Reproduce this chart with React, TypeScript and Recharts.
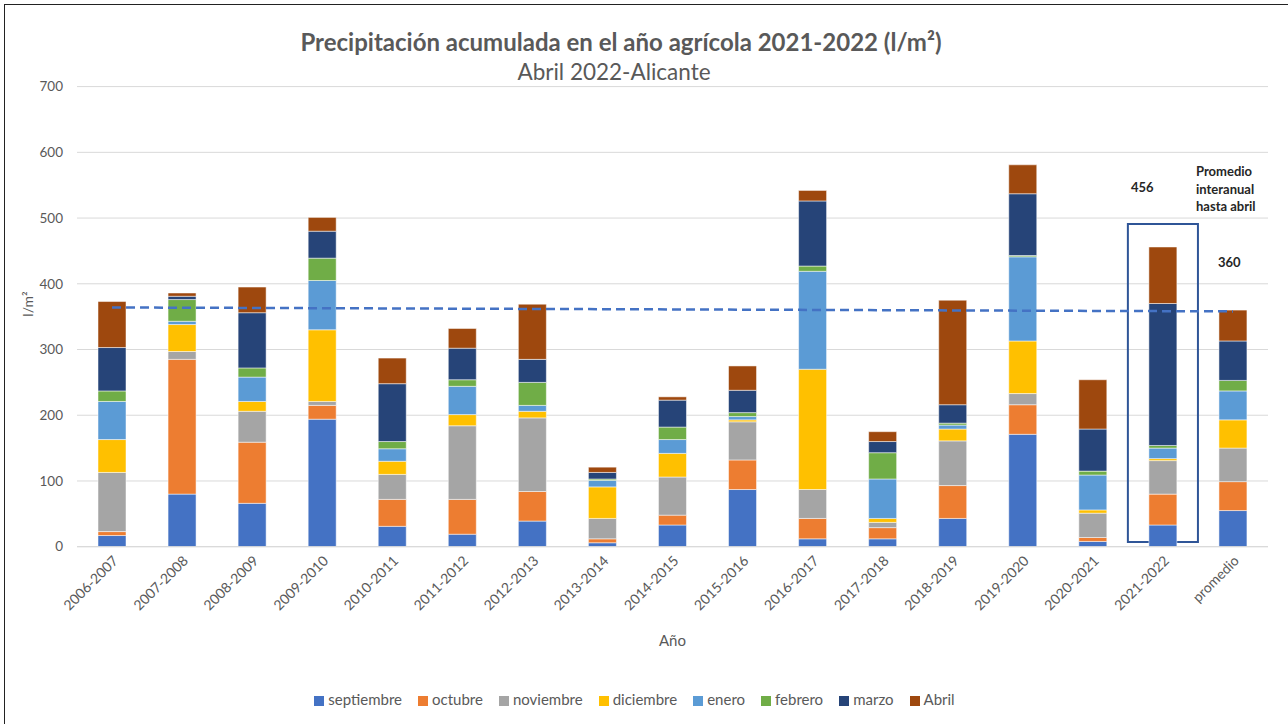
import {
  BarChart,
  Bar,
  XAxis,
  YAxis,
  CartesianGrid,
  Legend,
  ReferenceLine,
  ReferenceArea,
} from "recharts";

const years = [
  "2006-2007", "2007-2008", "2008-2009", "2009-2010", "2010-2011", "2011-2012",
  "2012-2013", "2013-2014", "2014-2015", "2015-2016", "2016-2017", "2017-2018",
  "2018-2019", "2019-2020", "2020-2021", "2021-2022", "promedio",
];

const septiembre = [17, 80, 66, 194, 31, 19, 39, 6, 33, 87, 12, 12, 43, 171, 8, 33, 55];
const octubre = [6, 205, 93, 21, 41, 53, 45, 6, 15, 45, 31, 17, 50, 45, 6, 47, 44];
const noviembre = [90, 12, 47, 6, 38, 112, 112, 31, 58, 58, 44, 8, 68, 17, 37, 51, 51];
const diciembre = [50, 41, 15, 109, 20, 17, 10, 48, 36, 3, 183, 6, 18, 80, 5, 3, 43];
const enero = [58, 5, 37, 75, 19, 43, 9, 10, 21, 5, 149, 60, 6, 128, 53, 16, 44];
const febrero = [16, 33, 14, 34, 11, 10, 35, 2, 19, 6, 8, 40, 3, 2, 6, 4, 16];
const marzo = [66, 5, 84, 41, 88, 48, 35, 10, 41, 34, 99, 17, 28, 94, 64, 216, 60];
const abril = [70, 5, 39, 21, 39, 30, 84, 8, 5, 37, 16, 15, 159, 44, 75, 86, 47];

const yTicks = [0, 100, 200, 300, 400, 500, 600, 700];

// dashed trend line across the chart (start / end values)
const trendStart = 364;
const trendEnd = 358;

// box around the current year
const boxYear = "2021-2022";
const boxLow = 7;
const boxHigh = 491;

const series = [
  { key: "septiembre", color: "#4472C4", values: septiembre },
  { key: "octubre", color: "#ED7D31", values: octubre },
  { key: "noviembre", color: "#A5A5A5", values: noviembre },
  { key: "diciembre", color: "#FFC000", values: diciembre },
  { key: "enero", color: "#5B9BD5", values: enero },
  { key: "febrero", color: "#70AD47", values: febrero },
  { key: "marzo", color: "#264478", values: marzo },
  { key: "Abril", color: "#9E480E", values: abril },
];
const seriesKeys = series.map((s) => s.key);

const data = years.map((y, i) => {
  const row: Record<string, string | number> = { year: y };
  series.forEach((s) => {
    row[s.key] = s.values[i];
  });
  return row;
});

const FONT = "Lato, 'Open Sans', sans-serif";
const GREY = "#595959";

export default function App() {
  return (
    <div
      style={{
        position: "absolute",
        left: 0,
        top: 0,
        width: 1288,
        height: 724,
        background: "#fff",
        fontFamily: FONT,
        overflow: "hidden",
      }}
    >
      <div
        style={{
          position: "absolute",
          left: 4,
          top: 4,
          right: 0,
          bottom: 0,
          borderTop: "1.5px solid #222",
          borderLeft: "1.5px solid #222",
        }}
      />
      <div
        style={{
          position: "absolute",
          top: 27,
          left: 0,
          width: 1242,
          textAlign: "center",
          fontSize: 24,
          fontWeight: 700,
          color: GREY,
        }}
      >
        Precipitación acumulada en el año agrícola 2021-2022 (l/m²)
      </div>
      <div
        style={{
          position: "absolute",
          top: 58,
          left: 0,
          width: 1228,
          textAlign: "center",
          fontSize: 22.5,
          color: GREY,
        }}
      >
        Abril 2022-Alicante
      </div>

      <BarChart
        width={1288}
        height={724}
        data={data}
        margin={{ top: 86.6, right: 20, bottom: 10, left: 17 }}
        style={{ position: "absolute", left: 0, top: 0 }}
      >
        <CartesianGrid vertical={false} stroke="#d9d9d9" />
        <XAxis
          dataKey="year"
          interval={0}
          height={143.3}
          angle={-45}
          textAnchor="end"
          tickLine={false}
          axisLine={{ stroke: "#d9d9d9" }}
          tick={{ fontSize: 14, fill: GREY, fontFamily: FONT }}
          label={{
            value: "Año",
            position: "insideBottom",
            offset: 44,
            fill: GREY,
            fontSize: 15,
            fontFamily: FONT,
          }}
        />
        <YAxis
          domain={[0, 700]}
          ticks={yTicks}
          width={60}
          tickLine={false}
          axisLine={false}
          tickMargin={8}
          tick={{ fontSize: 13.5, fill: GREY, fontFamily: FONT }}
          label={{
            value: "l/m²",
            angle: -90,
            position: "insideLeft",
            offset: 11,
            fill: GREY,
            fontSize: 14,
            fontFamily: FONT,
          }}
        />
        <Legend
          verticalAlign="bottom"
          align="center"
          iconType="square"
          iconSize={10}
          itemSorter={(item: any) => seriesKeys.indexOf(String(item.value))}
          wrapperStyle={{ height: 24, fontSize: 15, fontFamily: FONT }}
          formatter={(v) => <span style={{ color: GREY, paddingRight: 6 }}>{v}</span>}
        />
        {series.map((s) => (
          <Bar
            key={s.key}
            dataKey={s.key}
            stackId="a"
            fill={s.color}
            barSize={28}
            stroke="#ffffff"
            strokeWidth={0.5}
            isAnimationActive={false}
          />
        ))}
        <ReferenceLine
          segment={[
            { x: years[0], y: trendStart },
            { x: years[years.length - 1], y: trendEnd },
          ]}
          stroke="#4472C4"
          strokeWidth={2.5}
          strokeDasharray="9 5"
        />
        <ReferenceArea
          x1={boxYear}
          x2={boxYear}
          y1={boxLow}
          y2={boxHigh}
          fill="none"
          fillOpacity={0}
          stroke="#2F5597"
          strokeWidth={2}
        />
      </BarChart>

      <div
        style={{
          position: "absolute",
          left: 1131,
          top: 179,
          fontSize: 13,
          fontWeight: 700,
          color: "#262626",
        }}
      >
        456
      </div>
      <div
        style={{
          position: "absolute",
          left: 1196,
          top: 163,
          fontSize: 13,
          fontWeight: 700,
          lineHeight: "17.5px",
          color: "#262626",
        }}
      >
        Promedio
        <br />
        interanual
        <br />
        hasta abril
      </div>
      <div
        style={{
          position: "absolute",
          left: 1218,
          top: 254,
          fontSize: 13,
          fontWeight: 700,
          color: "#262626",
        }}
      >
        360
      </div>
    </div>
  );
}
